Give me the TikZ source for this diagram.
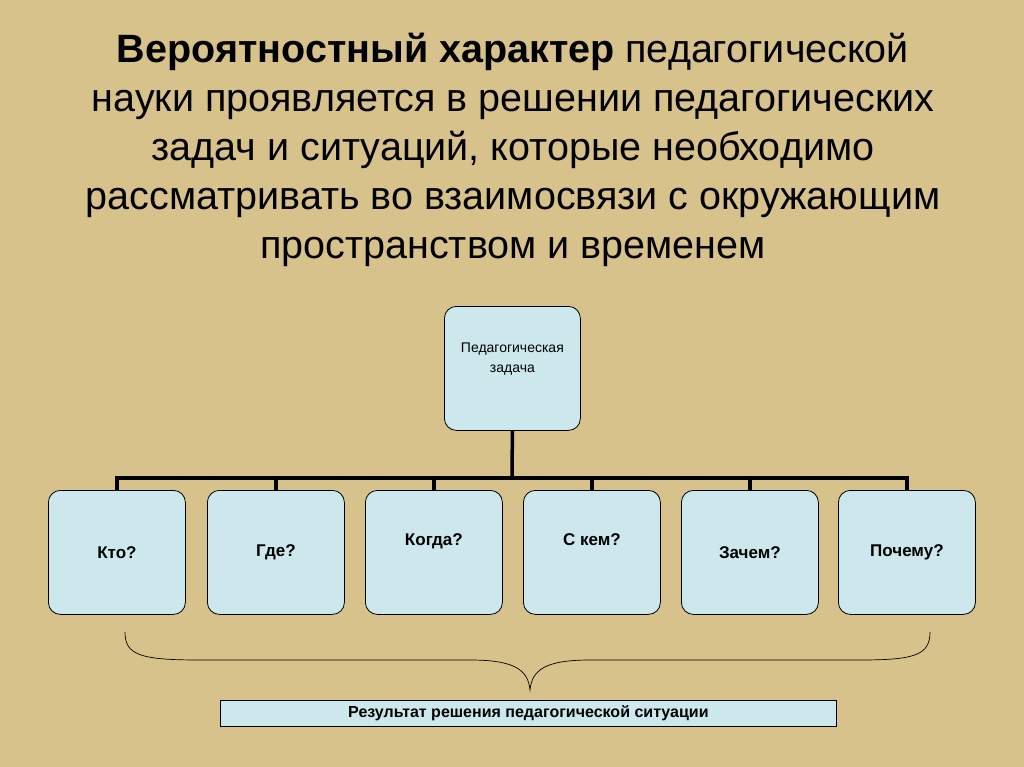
\documentclass[tikz,border=0pt]{standalone}
\usepackage{fontspec}
\setmainfont{Liberation Sans}
\begin{document}
\begin{tikzpicture}[x=1pt,y=-1pt,
  box/.style={draw=black,line width=0.8pt,fill=boxc,rounded corners=12pt,minimum width=137pt,minimum height=124pt,anchor=north west,inner sep=0pt,align=center},
  conn/.style={line width=3.5pt}]
\definecolor{bg}{RGB}{214,194,138}
\definecolor{boxc}{RGB}{204,232,236}
\fill[bg] (0,0) rectangle (1024,767);
\useasboundingbox (0,0) rectangle (1024,767);
\node[align=center,font=\fontsize{39.5}{49}\selectfont] (title) at (513,150)
 {\textbf{Вероятностный характер} педагогической\\науки проявляется в решении педагогических\\задач и ситуаций, которые необходимо\\рассматривать во взаимосвязи с окружающим\\пространством и временем};
\node[box,minimum width=136pt,font=\fontsize{14}{20}\selectfont] (top) at (444,306) {Педагогическая\\задача\\[2pt]};
\foreach \n/\x/\t in {a/48/Кто?,b/207/Где?,c/365/Когда?\\[6pt],d/523/С кем?\\[6pt],e/681/Зачем?\vspace{0pt},f/838/Почему?}
  \node[box,font=\bfseries\fontsize{17}{20}\selectfont] (\n) at (\x,490) {\t};
\coordinate (h) at (512,478);
\draw[conn] (top.south) -- (h);
\draw[conn] ([xshift=-1.75pt]a.north |- h) -- ([xshift=1.75pt]f.north |- h);
\foreach \n in {a,b,c,d,e,f} \draw[conn] (\n.north |- h) -- (\n.north);
\coordinate (bl) at (125,632);
\coordinate (br) at (930,632);
\coordinate (bm) at (530,690);
\draw[line width=0.7pt] (bl) .. controls (125,655) and (140,660) .. (200,660) -- (470,660) .. controls (515,660) and (528,670) .. (bm)
  .. controls (532,670) and (545,660) .. (590,660) -- (860,660) .. controls (915,660) and (930,655) .. (br);
\node[draw=black,line width=0.8pt,fill=boxc,minimum width=616pt,minimum height=26pt,anchor=north west,inner sep=0pt,font=\bfseries\fontsize{16}{18}\selectfont] (res) at (220,700) {Результат решения педагогической ситуации};
\end{tikzpicture}
\end{document}
